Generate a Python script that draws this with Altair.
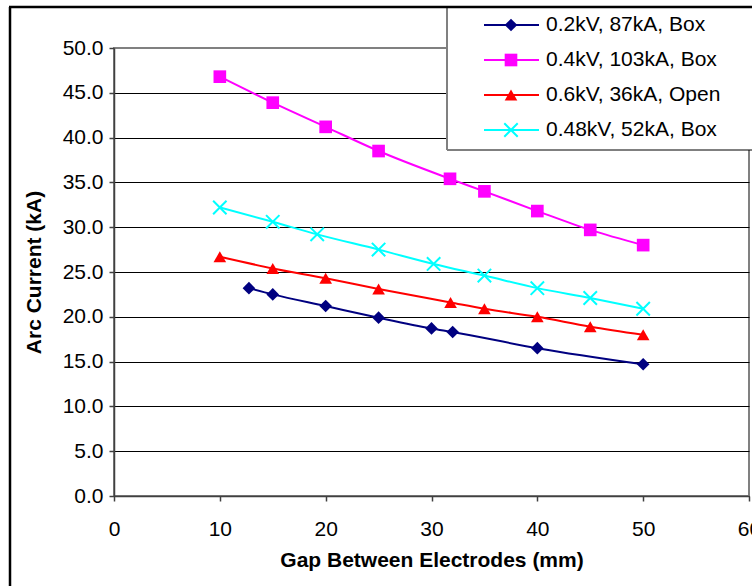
import altair as alt
import pandas as pd

# Series labels and colours
names = ["0.2kV, 87kA, Box", "0.4kV, 103kA, Box", "0.6kV, 36kA, Open", "0.48kV, 52kA, Box"]
colors = ["#000080", "#FF00FF", "#FF0000", "#00FFFF"]

# Gap between electrodes (mm) and arc current (kA) per series
gap_a = [12.75, 15, 20, 25, 30, 32, 40, 50]
cur_a = [23.2, 22.5, 21.2, 19.9, 18.7, 18.3, 16.5, 14.7]

gap_b = [10, 15, 20, 25, 31.75, 35, 40, 45, 50]
cur_b = [46.8, 43.9, 41.2, 38.5, 35.4, 34.0, 31.8, 29.7, 28.0]

gap_c = [10, 15, 20, 25, 31.8, 35, 40, 45, 50]
cur_c = [26.7, 25.4, 24.3, 23.1, 21.6, 20.9, 20.0, 18.9, 18.0]

gap_d = [10, 15, 19.2, 25, 30.2, 35, 40, 45, 50]
cur_d = [32.2, 30.6, 29.2, 27.5, 25.9, 24.6, 23.2, 22.1, 20.9]

x_ticks = [0, 10, 20, 30, 40, 50, 60]
y_ticks = [0, 5, 10, 15, 20, 25, 30, 35, 40, 45, 50]

rows = []
for name, xs, ys in zip(names, [gap_a, gap_b, gap_c, gap_d], [cur_a, cur_b, cur_c, cur_d]):
    for gx, cy in zip(xs, ys):
        rows.append({"series": name, "gap": gx, "current": cy})
df = pd.DataFrame(rows)
legend_df = pd.DataFrame({"series": names, "row": list(range(len(names)))})
one = pd.DataFrame({"k": [0]})

FONT = "Liberation Sans"
X_PATH = "M-1,-1L1,1M-1,1L1,-1"

color_scale = alt.Scale(domain=names, range=colors)
shape_scale = alt.Scale(domain=names[:3], range=["diamond", "square", "triangle-up"])

x_enc = alt.X(
    "gap:Q",
    scale=alt.Scale(domain=[0, 60], nice=False),
    axis=alt.Axis(values=x_ticks, title="Gap Between Electrodes (mm)", grid=False,
                  tickSize=5, labelPadding=17, titlePadding=10, labelFlush=False),
)
y_enc = alt.Y(
    "current:Q",
    scale=alt.Scale(domain=[0, 50], nice=False),
    axis=alt.Axis(values=y_ticks, format=".1f", title="Arc Current (kA)",
                  tickSize=5, labelPadding=6, titlePadding=18, labelFlush=False,
                  gridColor=alt.condition("datum.value === 50", alt.value("#808080"), alt.value("#000000"))),
)
col = alt.Color("series:N", scale=color_scale, legend=None)

base = alt.Chart(df)
lines = base.mark_line(interpolate="monotone", strokeWidth=2).encode(x=x_enc, y=y_enc, color=col)
filled_pts = base.transform_filter(
    alt.FieldOneOfPredicate(field="series", oneOf=names[:3])
).mark_point(filled=True, size=160, opacity=1).encode(
    x=x_enc, y=y_enc, color=col,
    shape=alt.Shape("series:N", scale=shape_scale, legend=None),
)
cross_pts = base.transform_filter(
    alt.FieldEqualPredicate(field="series", equal=names[3])
).mark_point(shape=X_PATH, size=180, strokeWidth=2, filled=False, opacity=1).encode(
    x=x_enc, y=y_enc, color=col,
)
data_layer = alt.layer(lines, filled_pts, cross_pts)

# Legend box drawn in the top-right corner, overlapping the plot
leg_y = alt.Y("row:Q", scale=alt.Scale(domain=[0, 3], range=[-23, 82]), axis=None)
leg_box = alt.Chart(one).mark_rect(fill="white", stroke="black", strokeWidth=1).encode(
    x=alt.value(333), x2=alt.value(700), y=alt.value(-41), y2=alt.value(102)
)
leg_edge = alt.Chart(one).mark_rule(color="#808080", strokeWidth=2).encode(
    x=alt.value(333), y=alt.value(-41), y2=alt.value(102)
)
leg_base = alt.Chart(legend_df)
leg_lines = leg_base.mark_rule(strokeWidth=2).encode(
    x=alt.value(370), x2=alt.value(425), y=leg_y, color=col
)
leg_filled = leg_base.transform_filter(
    alt.FieldOneOfPredicate(field="series", oneOf=names[:3])
).mark_point(filled=True, size=160, opacity=1).encode(
    x=alt.value(397), y=leg_y, color=col,
    shape=alt.Shape("series:N", scale=shape_scale, legend=None),
)
leg_cross = leg_base.transform_filter(
    alt.FieldEqualPredicate(field="series", equal=names[3])
).mark_point(shape=X_PATH, size=180, strokeWidth=2, filled=False, opacity=1).encode(
    x=alt.value(397), y=leg_y, color=col,
)
leg_text = leg_base.mark_text(align="left", baseline="middle", fontSize=21, font=FONT, color="black").encode(
    x=alt.value(432), y=leg_y, text="series:N"
)
legend_layer = alt.layer(leg_box, leg_edge, leg_lines, leg_filled, leg_cross, leg_text)

# Outer chart frame (top and left edges)
frame_left = alt.Chart(one).mark_rule(color="black", strokeWidth=2.5).encode(
    x=alt.value(-104), y=alt.value(-41), y2=alt.value(545)
)
frame_top = alt.Chart(one).mark_rule(color="black", strokeWidth=2.5).encode(
    x=alt.value(-105), x2=alt.value(650), y=alt.value(-41)
)

chart = alt.layer(data_layer, legend_layer, frame_left, frame_top).resolve_scale(
    y="independent"
).properties(
    width=635, height=448,
    autosize=alt.AutoSizeParams(type="none"),
    padding={"left": 114, "top": 48, "right": 3, "bottom": 90},
    background="white",
).configure_view(
    stroke="#808080", strokeWidth=2
).configure_axis(
    labelFont=FONT, titleFont=FONT, labelFontSize=21, titleFontSize=21,
    titleFontWeight="bold", labelColor="black", titleColor="black",
    domainColor="#404040", domainWidth=1.5, tickColor="#404040", tickWidth=1.5,
    gridWidth=1,
)

chart.save("out.html", embed_options={"renderer": "svg", "actions": False})
